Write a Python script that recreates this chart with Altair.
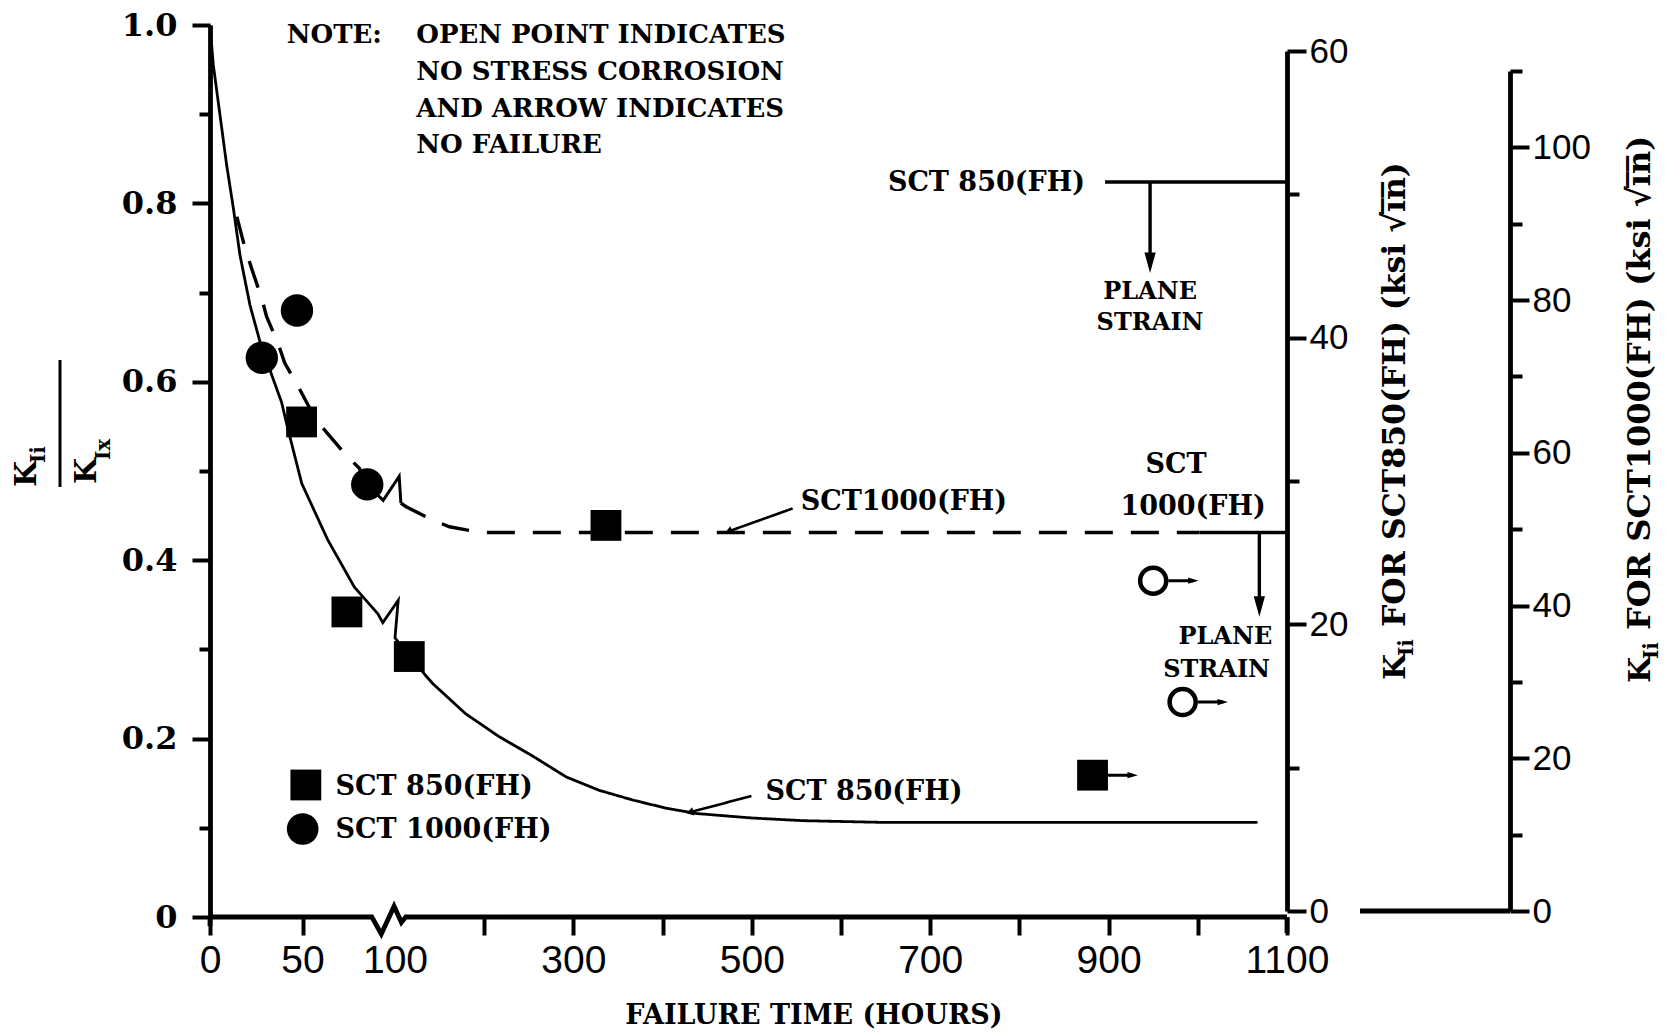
import altair as alt
import pandas as pd

# ---------------- data ----------------
# SCT 850(FH) trend line (solid): failure time (h) vs K_Ii/K_Ix, incl. break symbol near 100 h
sct850_curve_h = [0, 1.8, 5.4, 9.0, 12.6, 16.2, 21.6, 27.0, 33.3, 38.7, 42.0, 49.6, 63.6, 78.0,
                  90.7, 93.4, 103.6, 100.0, 116, 142, 179, 217, 255, 292, 329, 367, 404, 438,
                  500, 557, 650, 800, 1067]
sct850_curve_k = [1.0, 0.955, 0.899, 0.843, 0.795, 0.742, 0.686, 0.645, 0.608, 0.577, 0.548,
                  0.486, 0.423, 0.370, 0.340, 0.330, 0.355, 0.313, 0.292, 0.262, 0.228, 0.202,
                  0.180, 0.157, 0.142, 0.131, 0.122, 0.116, 0.111, 0.108, 0.106, 0.106, 0.106]

# SCT 1000(FH) trend line (dashed), its break symbol and the flat tail
sct1000_curve_h = [14.5, 18.9, 22.5, 27.9, 30.6, 36.8, 40.4, 47.6, 57.4, 63.6, 73.5, 80.7, 85.0]
sct1000_curve_k = [0.785, 0.750, 0.727, 0.694, 0.673, 0.643, 0.621, 0.595, 0.557, 0.542, 0.518,
                   0.503, 0.485]
sct1000_break_h = [85.0, 93.6, 104.7, 106.6]
sct1000_break_k = [0.485, 0.467, 0.494, 0.464]
sct1000_tail_h = [106.6, 112.5, 142, 161, 180, 202, 231, 1002]
sct1000_tail_k = [0.464, 0.460, 0.445, 0.4375, 0.434, 0.431, 0.431, 0.431]

# plane strain levels expressed as K_Ii/K_Ix, with the span of hours they are drawn over
plane_strain_850 = 0.824
plane_strain_850_h = [896, 1100]
plane_strain_850_arrow = [946.5, 0.7215]
plane_strain_1000 = 0.431
plane_strain_1000_h = [1002, 1100]
plane_strain_1000_arrow = [1069, 0.336]

# test results
sct850_h = [49.5, 74, 116, 336.5, 882]
sct850_k = [0.555, 0.342, 0.292, 0.439, 0.159]
sct850_runout = [False, False, False, False, True]
sct1000_h = [28, 47, 85, 950, 983]
sct1000_k = [0.627, 0.680, 0.485, 0.377, 0.241]
sct1000_open = [False, False, False, True, True]
sct1000_runout = [False, False, False, True, True]

# axis ticks and labels
x_ticks = [0, 50, 100, 200, 300, 400, 500, 600, 700, 800, 900, 1000, 1100]
x_labels = [0, 50, 100, 300, 500, 700, 900, 1100]
x_break_h = [0, 87.5, 92.6, 99.5, 107.2, 112, 1100]
x_break_k = [0, 0, -0.019, 0.012, -0.006, 0, 0]
ratio_ticks = [0, 0.1, 0.2, 0.3, 0.4, 0.5, 0.6, 0.7, 0.8, 0.9, 1.0]
k850_ticks = [0, 10, 20, 30, 40, 50, 60]
k1000_ticks = [0, 10, 20, 30, 40, 50, 60, 70, 80, 90, 100, 110]

note_lines = ["OPEN POINT INDICATES", "NO STRESS CORROSION", "AND ARROW INDICATES", "NO FAILURE"]

# ---------------- layout ----------------
W, H = 1077, 892
SERIF = "DejaVu Serif"
SANS = "Liberation Sans"
ARROW_GAP, ARROW_LEN = 17, 34          # hours, for "no failure" arrows
HEAD_RIGHT = "M-1,-0.6L1,0L-1,0.6Z"
HEAD_DOWN = "M-0.55,-1L0.55,-1L0,1Z"

xs = alt.Scale(domain=[0, 100, 1100], range=[0, 185, W], nice=False, zero=False)
ys = alt.Scale(domain=[0, 1], nice=False, zero=False)

# ---------------- line segments ----------------
rows = []


def add_seg(name, hs, ks, style="solid", width=3.0):
    for i, (h, k) in enumerate(zip(hs, ks)):
        rows.append(dict(h=h, k=k, seg=name, style=style, w=width, ord=i))


add_seg("c850", sct850_curve_h, sct850_curve_k, width=2.8)
add_seg("c1000a", sct1000_curve_h, sct1000_curve_k, "dashed", 3.4)
add_seg("c1000b", sct1000_break_h, sct1000_break_k, "solid", 3.0)
add_seg("c1000c", sct1000_tail_h, sct1000_tail_k, "dashed", 3.4)
add_seg("ps1000", plane_strain_1000_h, [plane_strain_1000] * 2, width=3.6)
add_seg("ps850", plane_strain_850_h, [plane_strain_850] * 2, width=3.6)
add_seg("ps850v", [plane_strain_850_arrow[0]] * 2, [plane_strain_850, plane_strain_850_arrow[1] + 0.02], width=3.4)
add_seg("ps1000v", [plane_strain_1000_arrow[0]] * 2, [plane_strain_1000, plane_strain_1000_arrow[1] + 0.02], width=3.4)
add_seg("xaxis", x_break_h, x_break_k, width=4.8)
add_seg("yext", [0, 0], [0, -0.01], width=4.8)
add_seg("y2ext", [1100, 1100], [0, -0.018], width=4.8)
add_seg("lead1000", [545.8, 475], [0.458, 0.4327], width=2.6)
add_seg("lead850", [499.6, 431.8], [0.1357, 0.1177], width=2.6)

heads = []
for h, k, ro in zip(sct850_h, sct850_k, sct850_runout):
    if ro:
        add_seg(f"ro850_{h}", [h + ARROW_GAP, h + ARROW_GAP + ARROW_LEN - 6], [k, k], width=3.0)
        heads.append(dict(h=h + ARROW_GAP + ARROW_LEN - 6, k=k, shape=HEAD_RIGHT, ang=0, sz=110))
for h, k, ro in zip(sct1000_h, sct1000_k, sct1000_runout):
    if ro:
        add_seg(f"ro1000_{h}", [h + ARROW_GAP, h + ARROW_GAP + ARROW_LEN - 6], [k, k], width=3.0)
        heads.append(dict(h=h + ARROW_GAP + ARROW_LEN - 6, k=k, shape=HEAD_RIGHT, ang=0, sz=110))
heads.append(dict(h=plane_strain_850_arrow[0], k=plane_strain_850_arrow[1] + 0.012, shape=HEAD_DOWN, ang=0, sz=420))
heads.append(dict(h=plane_strain_1000_arrow[0], k=plane_strain_1000_arrow[1] + 0.012, shape=HEAD_DOWN, ang=0, sz=420))
heads.append(dict(h=475, k=0.4327, shape="triangle", ang=250, sz=70))
heads.append(dict(h=431.8, k=0.1177, shape="triangle", ang=255, sz=70))

seg_df = pd.DataFrame(rows)
head_df = pd.DataFrame(heads)

# one axis definition per channel, shared by every layer so they merge into one
x_axis = alt.Axis(
    orient="bottom", values=x_ticks, format="d",
    labelExpr="indexof([" + ",".join(str(v) for v in x_labels) + "], datum.value) >= 0 ? datum.label : ''",
    domain=False, tickColor="black", tickWidth=4, tickSize=18,
    tickOpacity={"condition": {"test": "datum.value == 100", "value": 0}, "value": 1},
    labelFont=SANS, labelFontSize=39, labelColor="black", labelPadding=6,
    labelFlush=False, labelOverlap=False, grid=False, title=None,
)
y_axis = alt.Axis(
    orient="left", values=ratio_ticks,
    labelExpr="datum.value == 0 ? '0' : (round(datum.value * 10) % 2 == 0 ? format(datum.value, '.1f') : '')",
    domain=True, domainColor="black", domainWidth=4.8,
    tickColor="black", tickWidth=4,
    tickSize={"condition": {"test": "round(datum.value * 10) % 2 == 0", "value": 18}, "value": 11},
    labelFont=SERIF, labelFontWeight="bold", labelFontSize=32, labelColor="black",
    labelPadding=15, labelFlush=False, labelOverlap=False, grid=False, title=None,
)


def X():
    return alt.X("h:Q", scale=xs, axis=x_axis)


def Y():
    return alt.Y("k:Q", scale=ys, axis=y_axis)


lines = alt.Chart(seg_df).mark_line(color="black", strokeCap="butt", strokeJoin="miter").encode(
    x=X(), y=Y(),
    detail="seg:N", order="ord:Q",
    strokeWidth=alt.StrokeWidth("w:Q", scale=None),
    strokeDash=alt.StrokeDash("style:N", scale=alt.Scale(domain=["solid", "dashed"], range=[[1, 0], [28, 18]]), legend=None),
)

head_marks = alt.Chart(head_df).mark_point(filled=True, color="black", opacity=1, strokeWidth=0).encode(
    x=X(), y=Y(),
    shape=alt.Shape("shape:N", scale=None),
    angle=alt.Angle("ang:Q", scale=None),
    size=alt.Size("sz:Q", scale=None),
)

pts850 = pd.DataFrame({"h": sct850_h, "k": sct850_k})
pts1000 = pd.DataFrame({"h": sct1000_h, "k": sct1000_k, "open": sct1000_open})

squares = alt.Chart(pts850).mark_square(size=950, color="black", opacity=1).encode(x=X(), y=Y())
dots = alt.Chart(pts1000).transform_filter("!datum.open").mark_circle(size=1050, color="black", opacity=1).encode(x=X(), y=Y())
rings = alt.Chart(pts1000).transform_filter("datum.open").mark_point(
    shape="circle", size=680, filled=False, strokeWidth=4.5, color="black", opacity=1
).encode(x=X(), y=Y())

legend_sq = alt.Chart(pd.DataFrame({"h": [51.8], "k": [0.148]})).mark_square(size=950, color="black", opacity=1).encode(x=X(), y=Y())
legend_dot = alt.Chart(pd.DataFrame({"h": [50.1], "k": [0.0987]})).mark_circle(size=1000, color="black", opacity=1).encode(x=X(), y=Y())

# ---------------- text in data space ----------------
labels = [
    dict(h=41.5, k=0.989, text="NOTE:", fs=26, al="left"),
    dict(h=123.8, k=0.989, text=note_lines[0], fs=26, al="left"),
    dict(h=123.8, k=0.947, text=note_lines[1], fs=26, al="left"),
    dict(h=123.8, k=0.906, text=note_lines[2], fs=26, al="left"),
    dict(h=123.8, k=0.865, text=note_lines[3], fs=26, al="left"),
    dict(h=554.8, k=0.465, text="SCT1000(FH)", fs=27, al="left"),
    dict(h=515.3, k=0.140, text="SCT 850(FH)", fs=27, al="left"),
    dict(h=67.9, k=0.146, text="SCT 850(FH)", fs=27, al="left"),
    dict(h=67.9, k=0.098, text="SCT 1000(FH)", fs=27, al="left"),
    dict(h=946.5, k=0.701, text="PLANE", fs=24, al="center"),
    dict(h=946.5, k=0.666, text="STRAIN", fs=24, al="center"),
    dict(h=975.6, k=0.507, text="SCT", fs=27, al="center"),
    dict(h=994.7, k=0.460, text="1000(FH)", fs=27, al="center"),
    dict(h=873.5, k=0.823, text="SCT 850(FH)", fs=27, al="right"),
    dict(h=1083.4, k=0.314, text="PLANE", fs=24, al="right"),
    dict(h=1081.0, k=0.277, text="STRAIN", fs=24, al="right"),
]
lab_df = pd.DataFrame(labels)
text_layers = []
for al in ["left", "center", "right"]:
    text_layers.append(
        alt.Chart(lab_df).transform_filter(alt.datum.al == al).mark_text(
            align=al, baseline="middle", font=SERIF, fontWeight="bold", color="black"
        ).encode(x=X(), y=Y(), text="text:N", size=alt.Size("fs:Q", scale=None))
    )

# ---------------- titles (outside the plot area, pixel offsets) ----------------
one = pd.DataFrame({"d": [0]})


def ptext(txt, px, py, fs, angle=0, align="left", baseline="alphabetic"):
    return alt.Chart(one).mark_text(
        text=txt, angle=angle, align=align, baseline=baseline, font=SERIF,
        fontWeight="bold", fontSize=fs, color="black"
    ).encode(x=alt.value(px), y=alt.value(py))


title_layers = [
    ptext("FAILURE TIME (HOURS)", 604, 991, 27, align="center", baseline="middle"),
    # K_Ii / K_Ix
    ptext("K", -174, 462, 30, angle=270),
    ptext("Ii", -165, 438, 20, angle=270),
    ptext("K", -114, 459, 30, angle=270),
    ptext("Ix", -100, 435, 20, angle=270),
    # right hand scales
    ptext("K", 1195, 655, 30, angle=270),
    ptext("Ii", 1203, 631, 20, angle=270),
    ptext(" FOR SCT850(FH)  (ksi \u221ai\u0305n\u0305)", 1195, 602, 31.5, angle=270),
    ptext("K", 1440, 658, 30, angle=270),
    ptext("Ii", 1448, 634, 20, angle=270),
    ptext(" FOR SCT1000(FH)  (ksi \u221ai\u0305n\u0305)", 1440, 605, 32, angle=270),
]
frac_bar = alt.Chart(one).mark_rule(color="black", strokeWidth=3).encode(
    x=alt.value(-150), y=alt.value(335), y2=alt.value(462)
)
base2 = alt.Chart(one).mark_rule(color="black", strokeWidth=4.8).encode(
    x=alt.value(1150), x2=alt.value(1300), y=alt.value(886)
)

main = alt.layer(
    lines, head_marks, squares, dots, rings, legend_sq, legend_dot,
    *text_layers, *title_layers, frac_bar, base2,
)

# ---------------- right hand K_Ii scales ----------------


def side_axis(ticks, top, offset):
    ax = alt.Axis(
        orient="right", offset=offset, values=ticks,
        labelExpr="datum.value % 20 == 0 && datum.value <= 100 ? datum.label : ''",
        domain=True, domainColor="black", domainWidth=4.8,
        tickColor="black", tickWidth=4,
        tickSize={"condition": {"test": "datum.value % 20 == 0", "value": 19}, "value": 12},
        labelFont=SANS, labelFontSize=35, labelColor="black", labelPadding=3,
        labelFlush=False, labelOverlap=False, grid=False, title=None,
    )
    return alt.Chart(pd.DataFrame({"v": [ticks[0], ticks[-1]]})).mark_point(opacity=0).encode(
        x=alt.value(0),
        y=alt.Y("v:Q", scale=alt.Scale(domain=[ticks[0], ticks[-1]], range=[886, top], nice=False, zero=False), axis=ax),
    )


ax850 = side_axis(k850_ticks, 26, 0)
ax1000 = side_axis(k1000_ticks, 46, 223)

chart = alt.layer(main, ax850, ax1000).resolve_scale(y="independent").properties(
    width=W, height=H,
    autosize=alt.AutoSizeParams(type="none"),
    padding={"left": 210, "top": 25, "right": 381, "bottom": 115},
    background="white",
).configure_view(stroke=None)

chart.save("out.html", embed_options={"renderer": "svg", "actions": False})
